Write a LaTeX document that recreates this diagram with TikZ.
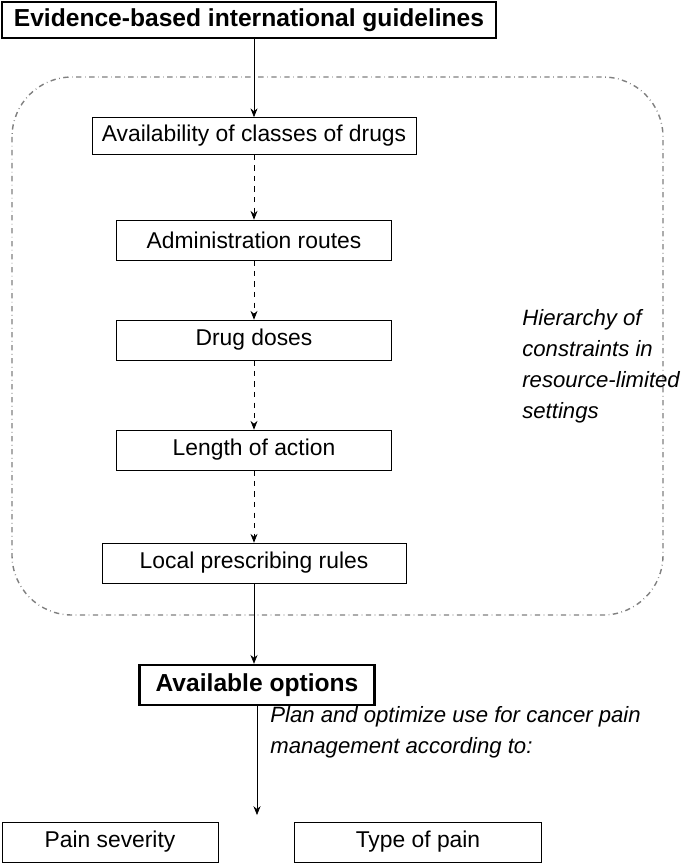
\documentclass[tikz,border=0pt]{standalone}
\usepackage{fontspec}
\setmainfont{Liberation Sans}
\usetikzlibrary{positioning,arrows.meta}
\begin{document}
\begin{tikzpicture}[x=0.02cm,y=-0.02cm, >={Stealth[length=5pt,width=4pt]},
	box/.style={draw, thin, inner sep=0pt, font=\fontsize{13}{15}\selectfont},
	bigbox/.style={draw, line width=1.4pt, inner sep=0pt, font=\fontsize{14}{16}\selectfont\bfseries},
	note/.style={font=\fontsize{12.6}{17.6}\selectfont\itshape, align=left, anchor=north west, inner sep=0pt}]
	\useasboundingbox (0,0) rectangle (685,863);

	\node (top)[bigbox, minimum width=9.88cm, minimum height=0.72cm] at (249,20) {Evidence-based international guidelines};
	\draw [dash dot, gray, thick, rounded corners=1.2cm] (12,77) rectangle (663,615);

	\node (avail)[box, minimum width=6.48cm, minimum height=0.74cm] at (254,136) {Availability of classes of drugs};
	\node (route)[box, minimum width=5.5cm, minimum height=0.8cm] at (254,240) {Administration routes};
	\node (dose)[box, minimum width=5.5cm, minimum height=0.8cm] at (254,340) {Drug doses};
	\node (length)[box, minimum width=5.5cm, minimum height=0.8cm] at (254,450) {Length of action};
	\node (local)[box, minimum width=6.08cm, minimum height=0.8cm] at (254,563) {Local prescribing rules};
	\node (opts)[bigbox, minimum width=4.7cm, minimum height=0.8cm] at (257,685) {Available options};
	\node (sev)[box, minimum width=4.32cm, minimum height=0.8cm] at (110,842) {Pain severity};
	\node (type)[box, minimum width=4.94cm, minimum height=0.8cm] at (418,842) {Type of pain};

	\node (hier)[note] at (522,309) {Hierarchy of\\constraints in\\resource-limited\\settings};
	\node (plan)[note] at (270,706) {Plan and optimize use for cancer pain\\management according to:};
	\coordinate (end) at (257,815);

	\draw [->] (top.south -| avail.north) -- (avail.north);
	\draw [->, dashed] (avail) -- (route);
	\draw [->, dashed] (route) -- (dose);
	\draw [->, dashed] (dose) -- (length);
	\draw [->, dashed] (length) -- (local);
	\draw [->] (local.south) -- (opts.north -| local.south);
	\draw [->] (opts.south) -- (end);
\end{tikzpicture}
\end{document}
